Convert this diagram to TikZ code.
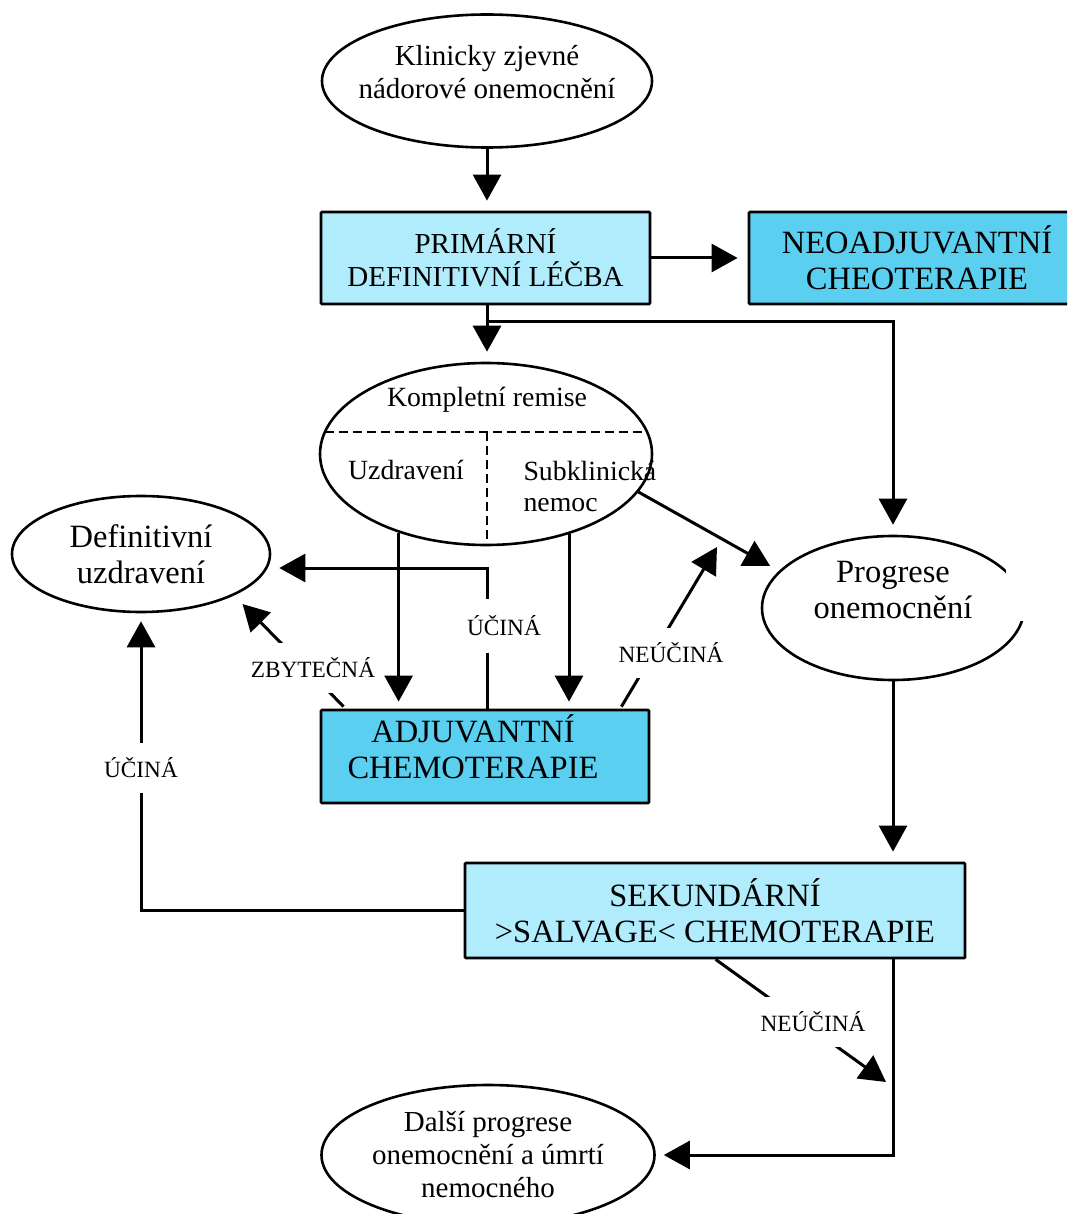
\documentclass[tikz,border=0pt]{standalone}
\usepackage{fontspec}
\setmainfont{Liberation Serif}
\usetikzlibrary{arrows.meta,shapes.geometric,calc}
\definecolor{lightc}{RGB}{176,236,251}
\definecolor{darkc}{RGB}{90,207,240}
\begin{document}
\begin{tikzpicture}[x=1pt,y=-1pt,
  line width=3pt,
  big/.style={font=\fontsize{29}{33}\selectfont},
  bigger/.style={font=\fontsize{32.5}{36}\selectfont},
  mid/.style={font=\fontsize{27.8}{31}\selectfont},
  lab/.style={font=\fontsize{23.3}{27}\selectfont, fill=white, inner sep=2pt},
  arr/.style={-{Triangle[width=28pt,length=26pt]}, shorten >=10pt},
  arrfree/.style={-{Triangle[width=28pt,length=26pt]}},
  ell/.style={draw, ellipse, line width=2.6pt, inner sep=0pt, align=center},
  txt/.style={align=center, inner sep=0pt},
  box/.style={draw, rectangle, line width=2.8pt, inner sep=0pt, align=center, rounded corners=1pt},
  dividers/.style={dashed, dash pattern=on 9pt off 5pt, line width=1.5pt}]
\clip (0,0) rectangle (1067,1214);
\fill[white] (0,0) rectangle (1067,1214);

% nodes
\node[ell, minimum width=330, minimum height=133] (klin) at (487,81) {};
\node[txt, big] (klint) at (487,72) {Klinicky zjevné\\nádorové onemocnění};
\node[box, big, fill=lightc, minimum width=329, minimum height=92] (prim) at (485.5,258) {PRIMÁRNÍ\\DEFINITIVNÍ LÉČBA};
\node[box, bigger, fill=darkc, minimum width=336, minimum height=92] (neo) at (917,258) {NEOADJUVANTNÍ\\CHEOTERAPIE};
\node[ell, minimum width=332, minimum height=182] (komp) at (486,454) {};
\node[mid] (kr) at (487,400) {Kompletní remise};
\node[mid] (uz) at (406,470) {Uzdravení};
\node[mid, anchor=west, align=left, inner sep=0pt] (sub) at (522,486) {Subklinická\\nemoc};
\node[ell, minimum width=258, minimum height=116] (def) at (141,554) {};
\node[txt, bigger] (deft) at (141,554) {Definitivní\\uzdravení};
\node[ell, minimum width=262, minimum height=144] (prog) at (893,608) {};
\fill[white] (1006,562) rectangle (1067,621);
\node[txt, bigger] (progt) at (893,590) {Progrese\\onemocnění};
\node[box, fill=darkc, minimum width=328, minimum height=93] (adj) at (485,756.5) {};
\node[txt, bigger] (adjt) at (473,747) {ADJUVANTNÍ\\CHEMOTERAPIE};
\node[box, bigger, fill=lightc, minimum width=500, minimum height=95] (sek) at (715,910.5) {SEKUNDÁRNÍ\\>SALVAGE< CHEMOTERAPIE};
\node[ell, minimum width=333, minimum height=140] (dal) at (488,1155) {};
\node[txt, big] (dalt) at (488,1155) {Další progrese\\onemocnění a úmrtí\\nemocného};

% dividers in Kompletni remise
\draw[dividers] ($(komp.center)+(-161,-22)$) -- ($(komp.center)+(161,-22)$);
\draw[dividers] ($(komp.center)+(1,-22)$) -- (komp.south -| 487,0);

% coordinates
\coordinate (branch) at ($(prim.south)+(1.5,16)$);
\coordinate (u1) at (487,568);
\coordinate (z0) at ($(adj.north west)+(24,-2)$);
\coordinate (n0) at ($(adj.north east)+(-29,-2)$);
\coordinate (n1) at (717,547);
\coordinate (s0) at ($(sek.south west)+(252,0)$);
\coordinate (s1) at (886,1082);

% connectors
\draw[arr] (klin.south) -- (klin.south |- prim.north);
\draw[arr] (prim.east) -- (neo.west);
\draw[arr] (branch |- prim.south) -- (branch |- komp.north);
\draw[arr] (branch) -| (prog.north);
\draw[arr, shorten >=7pt] (komp.222) -- (komp.222 |- adj.north);
\draw[arr, shorten >=7pt] (komp.316) -- (komp.316 |- adj.north);
\draw[arr, shorten >=8pt] (adj.north -| u1) -- (u1) -- (u1 -| def.east);
\draw[arr, shorten >=12pt] (z0) -- (def.-24);
\draw[arrfree] (n0) -- (n1);
\draw[arr] (komp.-14) -- (prog.162);
\draw[arr] (prog.south) -- (prog.south |- sek.north);
\draw[arr, shorten >=8pt] (sek.west) -| (def.south);
\draw[arr, shorten >=8pt] (sek.south -| prog.south) |- (dal.east);
\draw[arrfree] (s0) -- (s1);

% labels
\node[lab, minimum height=54] (l1) at (504,626) {ÚČINÁ};
\node[lab, minimum height=50] (l2) at (313,668) {ZBYTEČNÁ};
\node[lab, minimum height=50] (l3) at (671,653) {NEÚČINÁ};
\node[lab, minimum height=50] (l4) at (141,768) {ÚČINÁ};
\node[lab, minimum height=50] (l5) at (813,1022) {NEÚČINÁ};
\end{tikzpicture}
\end{document}
